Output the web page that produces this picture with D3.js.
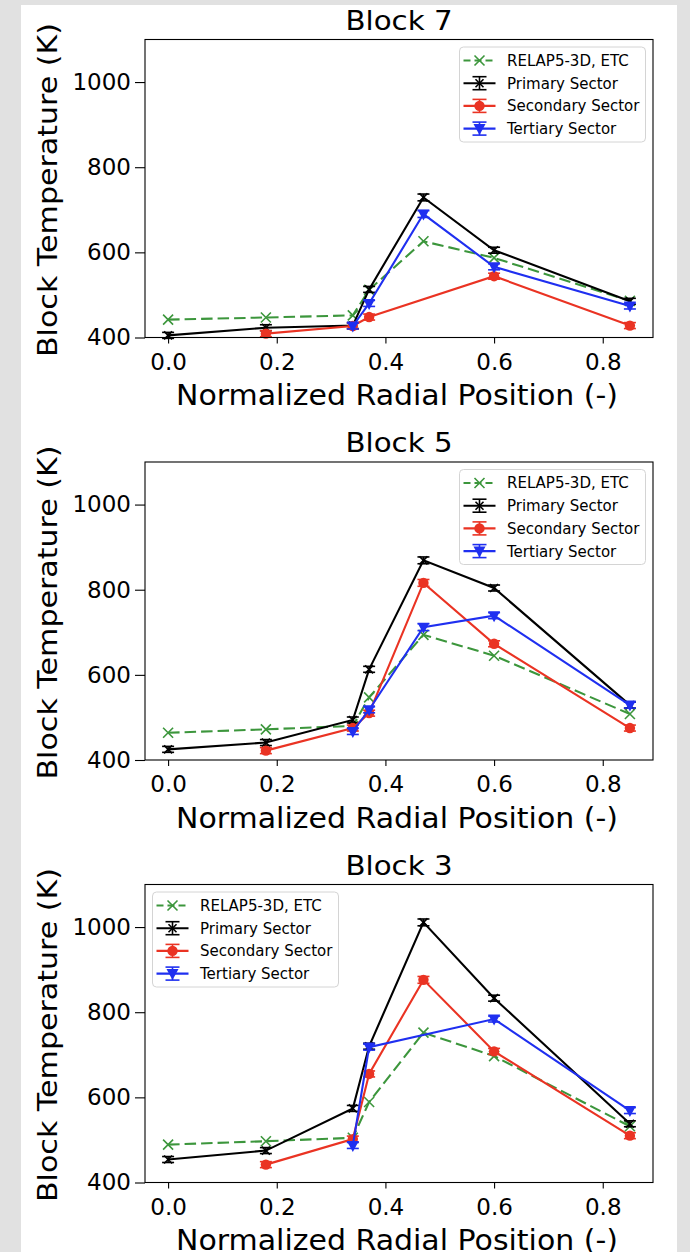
<!DOCTYPE html>
<html>
<head>
<meta charset="utf-8">
<script src="https://cdn.jsdelivr.net/npm/d3@7"></script>
<style>
  body { margin: 0; background: #e1e1e1; }
  text { font-family: "DejaVu Sans", sans-serif; fill: #000; }
</style>
</head>
<body>
<div id="chart"></div>
<script>
// 1. DATA
// ======================================
var radialPos = [0.0, 0.18, 0.34, 0.37, 0.47, 0.6, 0.85];
var xTicks = [0.0, 0.2, 0.4, 0.6, 0.8];
var yTicks = [400, 600, 800, 1000];
var blockNames = ["Block 7", "Block 5", "Block 3"];
var seriesNames = ["RELAP5-3D, ETC", "Primary Sector", "Secondary Sector", "Tertiary Sector"];

// Block 7
var relapB7 = [442, 447, 452, 512, 626, 587, 486];
var primaryB7 = [405, 423, 428, 513, 729, 605, 485];
var secondaryB7 = [null, 409, 427, 448, null, 544, 428];
var tertiaryB7 = [null, null, 427, 480, 690, 566, 474];

// Block 5
var relapB5 = [464, 472, 480, 547, 694, 645, 508];
var primaryB5 = [425, 441, 494, 613, 869, 804, 529];
var secondaryB5 = [null, 422, 475, 510, 816, 673, 475];
var tertiaryB5 = [null, null, 467, 518, 712, 739, 529];

// Block 3
var relapB3 = [489, 497, 505, 589, 752, 697, 532];
var primaryB3 = [454, 475, 574, 720, 1011, 833, 538];
var secondaryB3 = [null, 442, 502, 655, 876, 708, 510];
var tertiaryB3 = [null, null, 487, 718, null, 784, 569];

// measurement uncertainty (K) for the sectors, by radial position
var primaryErr = [7, 7, 7, 7, 8, 7, 7];
var secondaryErr = [7, 7, 7, 7, 8, 7, 7];
var tertiaryErr = [7, 7, 7, 7, 8, 7, 7];

// 2. SET UP SVG
// ======================================
var svgWidth = 690;
var svgHeight = 1252;

var axLeft = 145;
var axRight = 653;
var axHeight = 298;
var axTops = [39.5, 462, 884.5];
var legendSide = ["right", "right", "left"];

var colors = ["#3c963c", "#000000", "#ea3323", "#1f2ff0"];
var markers = ["x", "x", "o", "v"];

var svg = d3.select("#chart")
  .append("svg")
  .attr("width", svgWidth)
  .attr("height", svgHeight);

svg.append("rect")
  .attr("width", svgWidth)
  .attr("height", svgHeight)
  .attr("fill", "#e1e1e1");

svg.append("rect")
  .attr("x", 21)
  .attr("y", 5)
  .attr("width", 656)
  .attr("height", svgHeight - 5)
  .attr("fill", "#ffffff");

// 3. HELPER FUNCTIONS
// ======================================
function drawMarker(g, kind, cx, cy, color) {
  if (kind === "x") {
    var s = color === "#000000" ? 4 : 5;
    g.append("path")
      .attr("d", `M${cx - s},${cy - s}L${cx + s},${cy + s}M${cx - s},${cy + s}L${cx + s},${cy - s}`)
      .attr("stroke", color)
      .attr("stroke-width", 1.6)
      .attr("fill", "none");
  }
  else if (kind === "o") {
    g.append("circle")
      .attr("cx", cx)
      .attr("cy", cy)
      .attr("r", 5.2)
      .attr("fill", color);
  }
  else {
    g.append("path")
      .attr("d", `M${cx - 6},${cy - 4.5}L${cx + 6},${cy - 4.5}L${cx},${cy + 6.5}Z`)
      .attr("fill", color);
  }
}

function drawErrorBar(g, cx, y0, y1, color, cap) {
  g.append("line")
    .attr("x1", cx).attr("x2", cx)
    .attr("y1", y0).attr("y2", y1)
    .attr("stroke", color)
    .attr("stroke-width", 1.6);
  [y0, y1].forEach(function(yy) {
    g.append("line")
      .attr("x1", cx - cap).attr("x2", cx + cap)
      .attr("y1", yy).attr("y2", yy)
      .attr("stroke", color)
      .attr("stroke-width", 1.6);
  });
}

function drawLegend(g, x0, y0) {
  var w = 186;
  var h = 95;
  g.append("rect")
    .attr("x", x0)
    .attr("y", y0)
    .attr("width", w)
    .attr("height", h)
    .attr("rx", 4)
    .attr("fill", "#ffffff")
    .attr("fill-opacity", 0.8)
    .attr("stroke", "#d4d4d4")
    .attr("stroke-width", 1);

  seriesNames.forEach(function(name, i) {
    var cy = y0 + 13.5 + i * 22.7;
    var hx0 = x0 + 4;
    var hx1 = x0 + 36;
    var hc = (hx0 + hx1) / 2;

    g.append("line")
      .attr("x1", hx0).attr("x2", hx1)
      .attr("y1", cy).attr("y2", cy)
      .attr("stroke", colors[i])
      .attr("stroke-width", 2.1)
      .attr("stroke-dasharray", i === 0 ? "7,4" : null);

    if (i > 0) {
      drawErrorBar(g, hc, cy - 6.5, cy + 6.5, colors[i], 7);
    }
    drawMarker(g, markers[i], hc, cy, colors[i]);

    g.append("text")
      .attr("x", x0 + 47.5)
      .attr("y", cy)
      .attr("dy", "0.36em")
      .style("font-size", "15px")
      .text(name);
  });
}

// 4. DRAW THE THREE PANELS
// ======================================
var blockSeries = [
  [relapB7, primaryB7, secondaryB7, tertiaryB7],
  [relapB5, primaryB5, secondaryB5, tertiaryB5],
  [relapB3, primaryB3, secondaryB3, tertiaryB3]
];
var errSeries = [null, primaryErr, secondaryErr, tertiaryErr];

var xScale = d3.scaleLinear()
  .domain([-0.0425, 0.8925])
  .range([axLeft, axRight]);

blockSeries.forEach(function(series, b) {
  var top = axTops[b];
  var bottom = top + axHeight;

  var yScale = d3.scaleLinear()
    .domain([400, 1100])
    .range([bottom, top]);

  var panel = svg.append("g");

  // 4.1 axes
  var bottomAxis = d3.axisBottom(xScale)
    .tickValues(xTicks)
    .tickFormat(d3.format(".1f"))
    .tickSize(6)
    .tickPadding(10);

  var leftAxis = d3.axisLeft(yScale)
    .tickValues(yTicks)
    .tickFormat(d3.format("d"))
    .tickSize(10)
    .tickPadding(4);

  var xAxis = panel.append("g")
    .attr("transform", `translate(0, ${bottom})`)
    .call(bottomAxis);

  var yAxis = panel.append("g")
    .attr("transform", `translate(${axLeft}, 0)`)
    .call(leftAxis);

  [xAxis, yAxis].forEach(function(ax) {
    ax.select(".domain").remove();
    ax.selectAll("line").attr("stroke", "#000").attr("stroke-width", 1.1);
    ax.selectAll("text")
      .style("font-size", "23px")
      .style("font-family", "DejaVu Sans, sans-serif")
      .attr("fill", "#000");
  });

  // 4.2 lines, error bars and markers
  var plot = panel.append("g");
  var line = d3.line()
    .x(d => xScale(d[0]))
    .y(d => yScale(d[1]));

  series.forEach(function(vals, s) {
    var pts = [];
    vals.forEach(function(v, i) {
      if (v !== null) pts.push([radialPos[i], v, i]);
    });

    plot.append("path")
      .datum(pts)
      .attr("d", line)
      .attr("fill", "none")
      .attr("stroke", colors[s])
      .attr("stroke-width", 2.1)
      .attr("stroke-dasharray", s === 0 ? "11.5,5" : null);

    pts.forEach(function(p) {
      var cx = xScale(p[0]);
      if (errSeries[s]) {
        var e = errSeries[s][p[2]];
        drawErrorBar(plot, cx, yScale(p[1] + e), yScale(p[1] - e), colors[s], 6);
      }
      drawMarker(plot, markers[s], cx, yScale(p[1]), colors[s]);
    });
  });

  // 4.3 frame
  panel.append("rect")
    .attr("x", axLeft)
    .attr("y", top)
    .attr("width", axRight - axLeft)
    .attr("height", axHeight)
    .attr("fill", "none")
    .attr("stroke", "#000")
    .attr("stroke-width", 1.1);

  // 4.4 legend
  var lx = legendSide[b] === "right" ? axRight - 7.5 - 186 : axLeft + 7.5;
  drawLegend(panel.append("g"), lx, top + 7.5);

  // 4.5 title and axis labels (stretched a little, as in the source image)
  panel.append("text")
    .attr("x", (axLeft + axRight) / 2)
    .attr("y", top - 10)
    .attr("text-anchor", "middle")
    .attr("textLength", 107)
    .attr("lengthAdjust", "spacingAndGlyphs")
    .style("font-size", "27px")
    .text(blockNames[b]);

  panel.append("text")
    .attr("x", (axLeft + axRight) / 2 - 2)
    .attr("y", bottom + 67.5)
    .attr("text-anchor", "middle")
    .attr("textLength", 442)
    .attr("lengthAdjust", "spacingAndGlyphs")
    .style("font-size", "27.5px")
    .text("Normalized Radial Position (-)");

  panel.append("text")
    .attr("transform", `translate(57, ${(top + bottom) / 2 + 1.5}) rotate(-90)`)
    .attr("text-anchor", "middle")
    .attr("textLength", 334)
    .attr("lengthAdjust", "spacingAndGlyphs")
    .style("font-size", "26px")
    .text("Block Temperature (K)");
});
</script>
</body>
</html>
